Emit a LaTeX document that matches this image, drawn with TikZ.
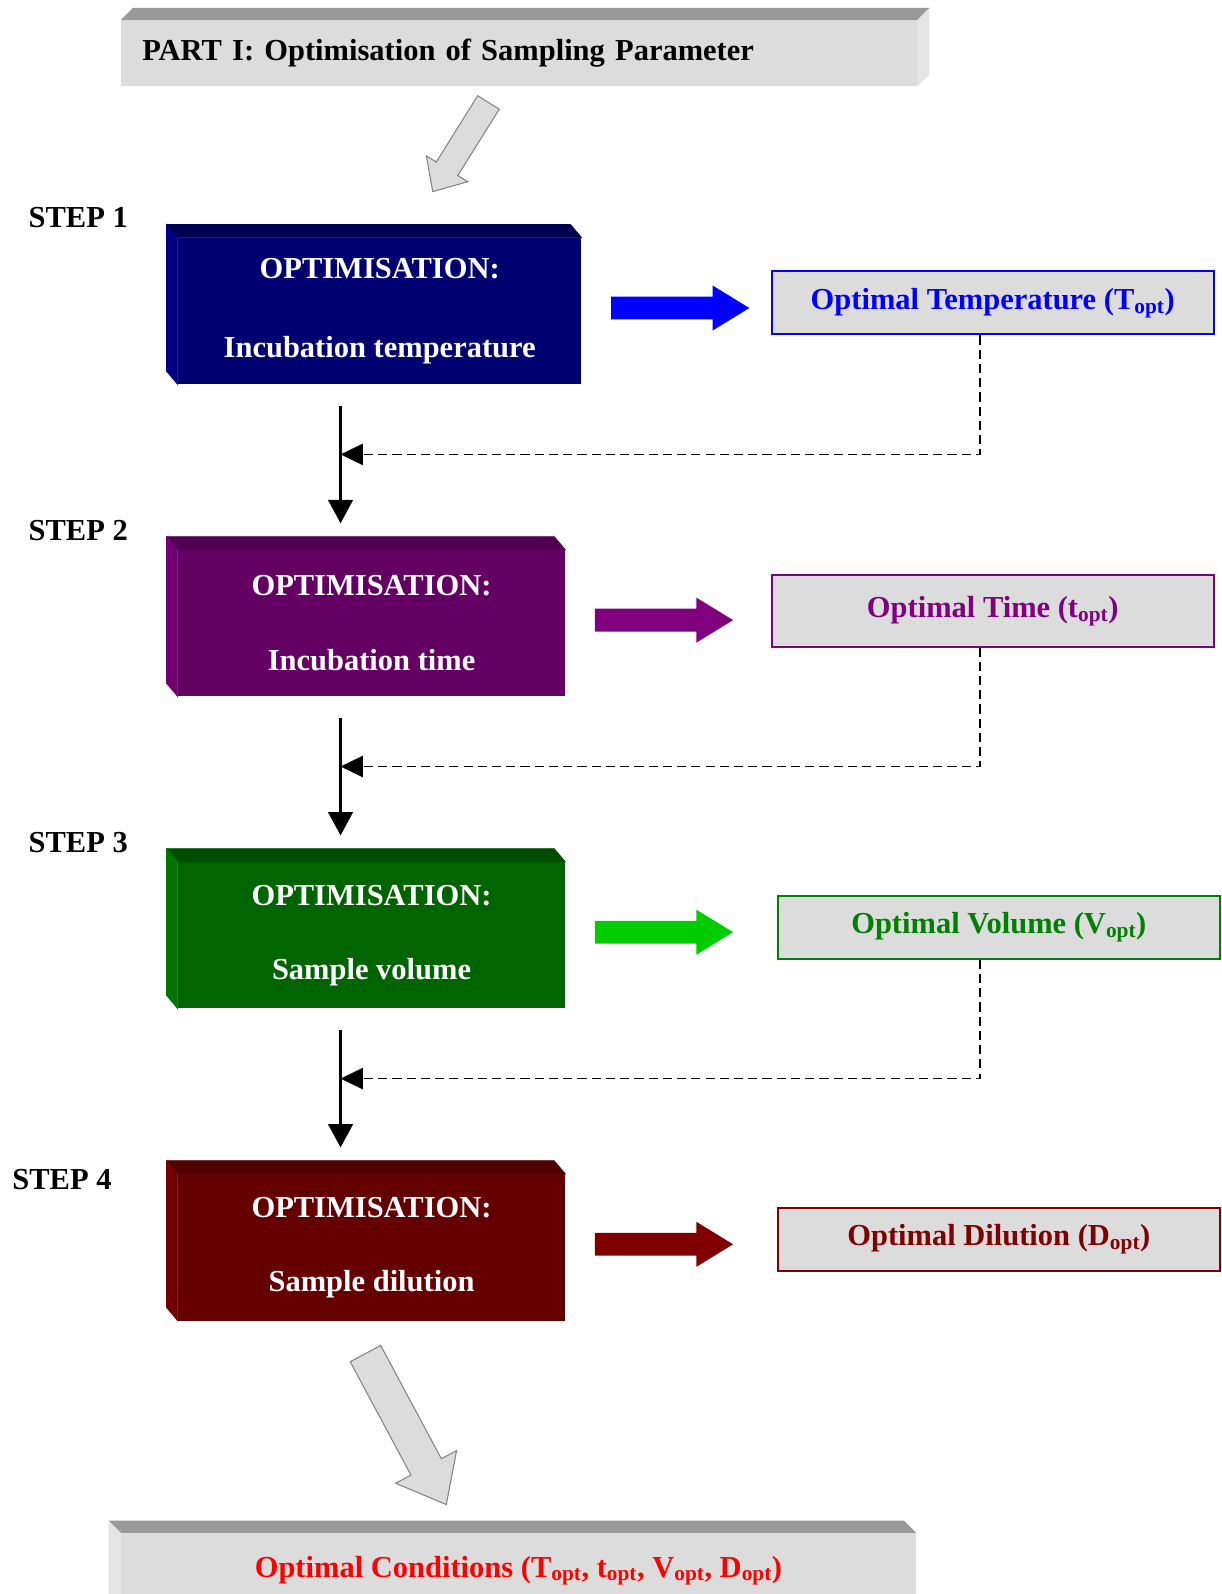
\documentclass[tikz,border=0pt]{standalone}
\usepackage{fontspec}
\setmainfont{Liberation Serif}
\usetikzlibrary{arrows.meta,positioning,calc,shapes.arrows}

\definecolor{marble}    {RGB}{220,220,220}
\definecolor{bartop}    {RGB}{153,153,153}
\definecolor{barside}   {RGB}{228,228,228}
\definecolor{navyfront} {RGB}{0,  0,112}
\definecolor{navytop}   {RGB}{0,  0, 82}
\definecolor{navyside}  {RGB}{0,  0,128}
\definecolor{plumfront} {RGB}{100,0,100}
\definecolor{plumtop}   {RGB}{80, 0, 80}
\definecolor{plumside}  {RGB}{115,0,115}
\definecolor{leaffront} {RGB}{0,100,  0}
\definecolor{leaftop}   {RGB}{0, 76,  0}
\definecolor{leafside}  {RGB}{0,115,  0}
\definecolor{winefront} {RGB}{100,0,  0}
\definecolor{winetop}   {RGB}{80, 0,  0}
\definecolor{wineside}  {RGB}{115,0,  0}
\definecolor{resblue}   {RGB}{0,  0,255}
\definecolor{respurple} {RGB}{128,0,128}
\definecolor{resgreen}  {RGB}{0,128,  0}
\definecolor{resred}    {RGB}{128,0,  0}
\definecolor{arrgreen}  {RGB}{0,204,  0}
\definecolor{condred}   {RGB}{255,0,  0}

\newcommand\bigfont{\fontsize{30}{36}\selectfont\bfseries}

\tikzset{
  optbox/.style={minimum width=381pt,minimum height=144pt,inner sep=0pt,
                 text=white,font=\bigfont,align=center},
  resbox/.style={draw,line width=2pt,fill=marble,minimum width=435pt,
                 minimum height=62pt,inner sep=0pt,font=\bigfont},
  banner/.style={fill=marble,inner sep=0pt,font=\bigfont},
  steplbl/.style={anchor=west,inner sep=0pt,font=\bigfont},
  blkarr/.style={single arrow,inner sep=11pt,minimum height=136pt,
                 single arrow head extend=11pt,single arrow tip angle=63},
  flow/.style={-{Triangle[length=23pt,width=24pt]},line width=3pt},
  back/.style={-{Triangle[length=22pt,width=21pt]},line width=1.5pt,
               dash pattern=on 9pt off 5pt},
  hollow/.style={fill=marble,draw=gray,line width=1pt},
}

\newcommand\sides[3]{%
  \filldraw[#2,line width=0.6pt] (#1.north west) -- ++(-11,-13)
    -- ($(#1.north east)+(-11,-13)$) -- (#1.north east) -- cycle;
  \filldraw[#3,line width=0.6pt] (#1.north west) -- ++(-11,-13)
    -- ($(#1.south west)+(-11,-13)$) -- (#1.south west) -- cycle;}

\newcommand\fatarrow[5]{%
  \coordinate (hb) at ($(#2)!#5!(#1)$);
  \filldraw[hollow] ($(#1)!#3!90:(#2)$) -- ($(hb)!#3!-90:(#1)$)
    -- ($(hb)!#4!-90:(#1)$) -- (#2) -- ($(hb)!#4!90:(#1)$)
    -- ($(hb)!#3!90:(#1)$) -- ($(#1)!#3!-90:(#2)$) -- cycle;}

\begin{document}
\begin{tikzpicture}[x=1pt,y=-1pt]
  \useasboundingbox (0,0) rectangle (1202,1568);

  \node[banner,minimum width=783pt,minimum height=65pt,text width=741pt,
        inner xsep=21pt,align=left] (part) at (510.5,52.5)
        {PART I: Optimisation of Sampling Parameter};
  \fill[bartop] (part.north west) -- ++(12,-12) -- ($(part.north east)+(12,-12)$)
    -- (part.north east) -- cycle;
  \fill[barside] (part.north east) -- ++(12,-12) -- ($(part.south east)+(12,-12)$)
    -- (part.south east) -- cycle;

  \node[optbox,minimum width=397pt,fill=navyfront] (opt1) at (373.5,306)
        {OPTIMISATION:\\[41pt]Incubation temperature};
  \node[optbox,fill=plumfront] (opt2) at (365.5,613) {OPTIMISATION:\\[37pt]Incubation time};
  \node[optbox,fill=leaffront] (opt3) at (365.5,920) {OPTIMISATION:\\[37pt]Sample volume};
  \node[optbox,fill=winefront] (opt4) at (365.5,1227) {OPTIMISATION:\\[37pt]Sample dilution};
  \sides{opt1}{navytop}{navyside}
  \sides{opt2}{plumtop}{plumside}
  \sides{opt3}{leaftop}{leafside}
  \sides{opt4}{winetop}{wineside}

  \node[steplbl] (lbl1) at (28,214) {STEP 1};
  \node[steplbl] (lbl2) at (28,522) {STEP 2};
  \node[steplbl] (lbl3) at (28,829) {STEP 3};
  \node[steplbl] (lbl4) at (12,1160) {STEP 4};

  \node[resbox,draw=resblue,text=resblue] (res1) at (976.5,298)
        {Optimal Temperature (T\textsubscript{opt})};
  \node[resbox,draw=respurple,text=respurple,minimum height=70pt] (res2) at (976.5,601)
        {Optimal Time (t\textsubscript{opt})};
  \node[resbox,draw=resgreen,text=resgreen] (res3) at (982.5,912)
        {Optimal Volume (V\textsubscript{opt})};
  \node[resbox,draw=resred,text=resred] (res4) at (982.5,1219)
        {Optimal Dilution (D\textsubscript{opt})};

  \node[blkarr,fill=resblue] (go1) at (660,303) {};
  \node[blkarr,fill=respurple] (go2) at (644,610) {};
  \node[blkarr,fill=arrgreen] (go3) at (644,917) {};
  \node[blkarr,fill=resred] (go4) at (644,1224) {};

  \coordinate (col) at (335,0);
  \coordinate (j1) at (335,447);
  \coordinate (j2) at (335,754);
  \coordinate (j3) at (335,1061);

  \draw[flow,shorten <=21pt,shorten >=26pt] (opt1.south -| col) -- (opt2.north -| col);
  \draw[flow,shorten <=21pt,shorten >=26pt] (opt2.south -| col) -- (opt3.north -| col);
  \draw[flow,shorten <=21pt,shorten >=26pt] (opt3.south -| col) -- (opt4.north -| col);

  \draw[back] ([xshift=-12.5pt]res1.south) |- (j1);
  \draw[back] ([xshift=-12.5pt]res2.south) |- (j2);
  \draw[back] ([xshift=-18.5pt]res3.south) |- (j3);

  \node[banner,minimum width=782pt,minimum height=74pt,text=condred] (cond) at (510,1545)
        {Optimal Conditions (T\textsubscript{opt}, t\textsubscript{opt}, V\textsubscript{opt}, D\textsubscript{opt})};
  \fill[bartop] (cond.north east) -- ++(-12,-12) -- ($(cond.north west)+(-12,-12)$)
    -- (cond.north west) -- cycle;
  \fill[barside] (cond.north west) -- ++(-12,-12) -- ($(cond.south west)+(-12,-12)$)
    -- (cond.south west) -- cycle;

  \coordinate (down1s) at (480.5,100.8);
  \coordinate (down1e) at (425.7,188.5);
  \fatarrow{down1s}{down1e}{12.5pt}{24pt}{26.5pt}
  \coordinate (down2s) at (359.5,1331.5);
  \coordinate (down2e) at (439,1480);
  \fatarrow{down2s}{down2e}{17pt}{34pt}{42pt}
\end{tikzpicture}
\end{document}
